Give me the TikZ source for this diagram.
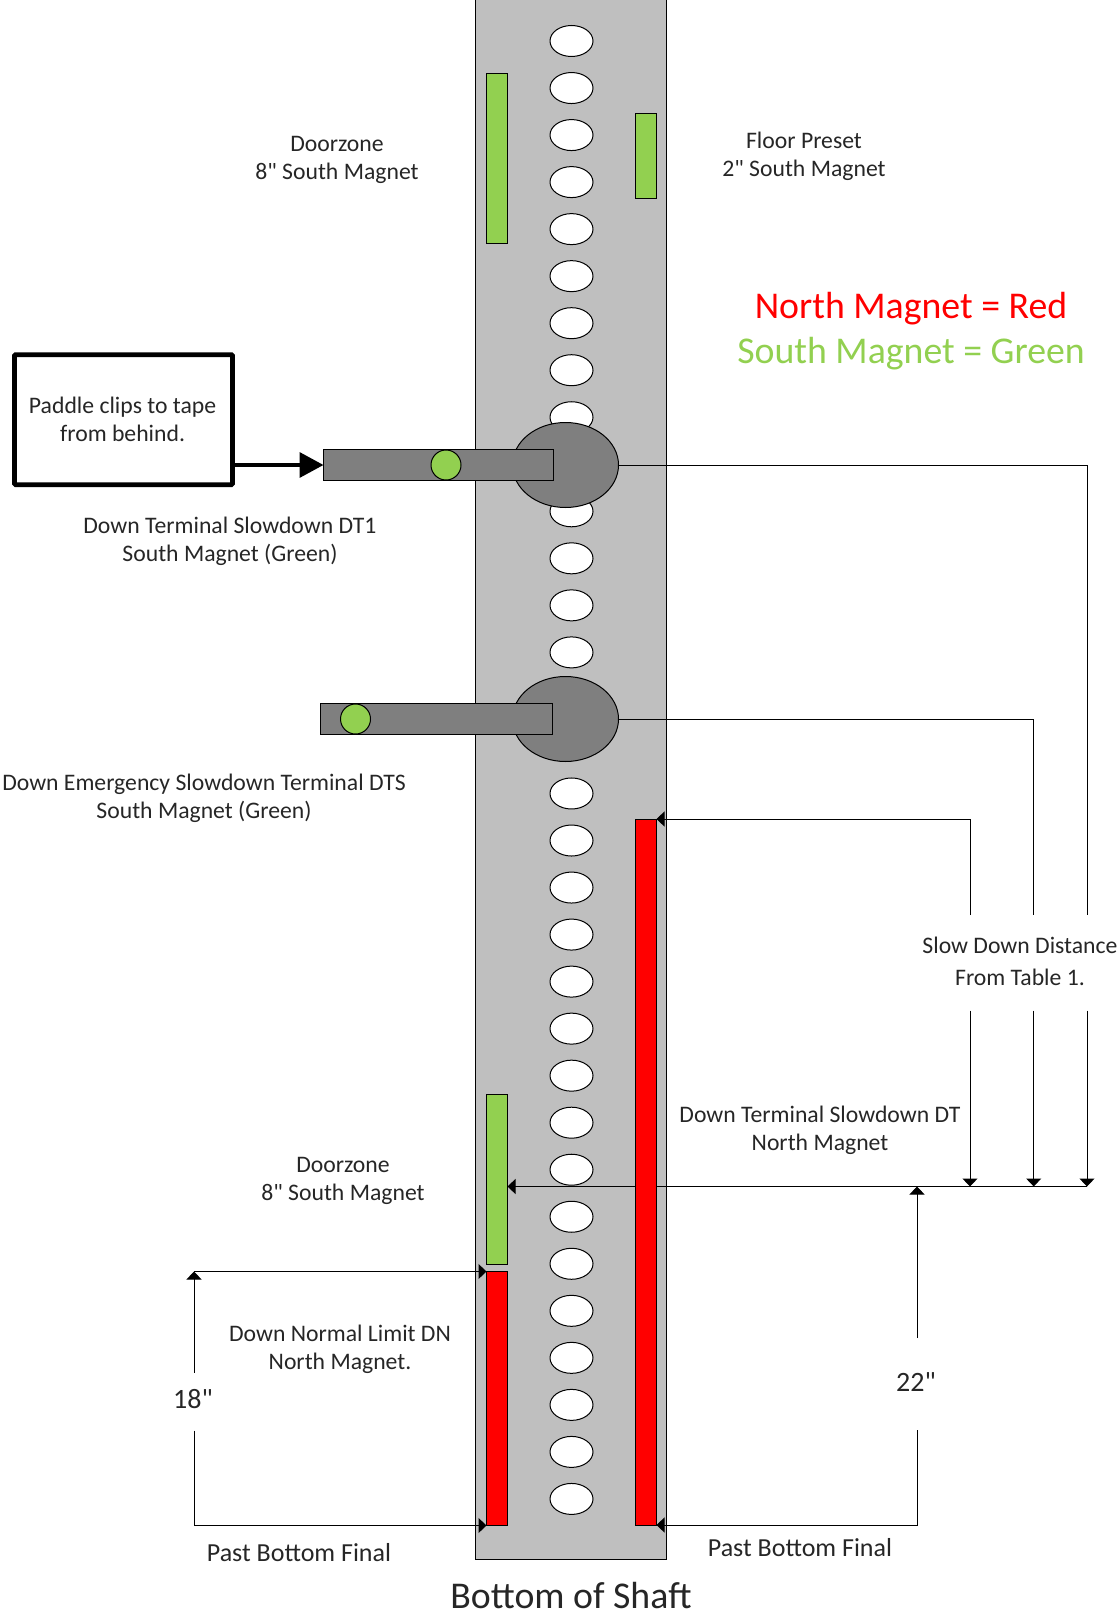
\documentclass[tikz,border=0pt]{standalone}
\usepackage{fontspec}
\setmainfont{Carlito}
\newfontfamily\plainquote{Carlito}
\usetikzlibrary{arrows.meta}
\usetikzlibrary{backgrounds}
\usetikzlibrary{shapes.geometric}
\definecolor{shaftgrey}{HTML}{BFBFBF}
\definecolor{paddlegrey}{HTML}{7F7F7F}
\definecolor{southgreen}{HTML}{92D050}
\definecolor{northred}{HTML}{FF0000}
\definecolor{labelgrey}{HTML}{262626}
\newcommand{\inchmark}{{\plainquote"}}
\begin{document}
\begin{tikzpicture}[x=1pt,y=-1pt,
                every node/.style={text=labelgrey,font=\fontsize{23.7}{28}\selectfont,align=center},
                outlined/.style={draw=black,line width=1pt,inner sep=0pt,outer sep=0pt},
                hole/.style={outlined,ellipse,fill=white,minimum width=43pt,minimum height=31pt},
                magnet/.style={outlined,rectangle,minimum width=21pt},
                southmagnet/.style={magnet,fill=southgreen},
                northmagnet/.style={magnet,fill=northred},
                head/.style={outlined,ellipse,fill=paddlegrey,minimum width=106pt,minimum height=85pt},
                paddlebar/.style={outlined,rectangle,fill=paddlegrey,minimum height=31pt},
                sensor/.style={outlined,circle,fill=southgreen,minimum size=30pt},
                dimline/.style={draw=black,line width=1pt},
                dimarrow/.style={dimline,-{Triangle[width=15pt,length=8pt]}},
                bigtext/.style={font=\fontsize{37.8}{45}\selectfont},
                sizetext/.style={font=\fontsize{28}{34}\selectfont},
                finaltext/.style={font=\fontsize{26}{30}\selectfont}]
            \useasboundingbox (0,0) rectangle (1118,1616);

            \foreach \i in {0,...,8,10,11,12,13,16,17,...,31}
                \node[hole] (h\i) at (571.5,{41+47.03*\i}) {};

            \node[southmagnet,minimum height=170pt] (doorzonetop) at (497,158.5) {};
            \node[southmagnet,minimum height=85pt] (preset) at (646,156) {};
            \node[southmagnet,minimum height=170pt] (doorzonelow) at (497,1179.5) {};
            \node[northmagnet,minimum height=254pt] (normallimit) at (497,1398.5) {};
            \node[northmagnet,minimum height=706pt] (slowdownred) at (646,1172) {};

            \node[head] (head1) at (565.5,465) {};
            \node[head] (head2) at (565.5,719) {};
            \node[paddlebar,minimum width=229.5pt] (paddle1) at (438.25,465) {};
            \node[paddlebar,minimum width=231.5pt] (paddle2) at (436.25,719) {};
            \node[sensor] (sensor1) at (446,465) {};
            \node[sensor] (sensor2) at (355.5,719) {};

            \node[draw=black,line width=4.6pt,rounded corners=1pt,minimum width=218pt,minimum height=130pt,
                  inner sep=0pt,outer sep=0pt] (clipbox) at (123.5,419.7) {};
            \node (cliptext) at (122.6,419) {Paddle clips to tape\\from behind.};
            \draw[black,line width=3.5pt,-{Triangle[width=25pt,length=24pt]}] (clipbox.east |- paddle1.west) -- (paddle1.west);

            \node (doorzonetoptext) at (337,160) {Doorzone\\8\inchmark{} South Magnet};
            \node (presettext) at (804,156) {Floor Preset\\2\inchmark{} South Magnet};
            \node[bigtext,text=northred] (northkey) at (911,309) {North Magnet = Red};
            \node[bigtext,text=southgreen] (southkey) at (911,354) {South Magnet = Green};
            \node (dt1text) at (230,541) {Down Terminal Slowdown DT1\\South Magnet (Green)};
            \node (dtstext) at (204,798.5) {Down Emergency Slowdown Terminal DTS\\South Magnet (Green)};
            \node[font=\fontsize{23.7}{32}\selectfont] (distancetext) at (1020,961.5) {Slow Down Distance\\From Table 1.};
            \node (dttext) at (820,1130) {Down Terminal Slowdown DT\\North Magnet};
            \node (doorzonelowtext) at (343,1181) {Doorzone\\8\inchmark{} South Magnet};
            \node (dntext) at (340,1349) {Down Normal Limit DN\\North Magnet.};
            \node[sizetext] (dist18) at (193,1399) {18\inchmark};
            \node[sizetext] (dist22) at (916,1382) {22\inchmark};
            \node[finaltext] (finalleft) at (299,1553) {Past Bottom Final};
            \node[finaltext] (finalright) at (800,1548) {Past Bottom Final};
            \node[bigtext] (bottomtext) at (571,1595) {Bottom of Shaft};

            \coordinate (datum) at (1087,1186.5);
            \coordinate (up1) at (970,915);
            \coordinate (up2) at (1033.7,915);
            \coordinate (up3) at (1087,915);
            \coordinate (low1) at (970,1010.7);
            \coordinate (low2) at (1033.7,1010.7);
            \coordinate (low3) at (1087,1010.7);
            \coordinate (gap18a) at (194,1372.7);
            \coordinate (gap18b) at (194,1430.7);
            \coordinate (gap22a) at (917,1338);
            \coordinate (gap22b) at (917,1430);

            \begin{scope}[on background layer]
                \node[outlined,rectangle,fill=shaftgrey,minimum width=191.5pt,minimum height=1559pt] (shaft) at (570.75,779.5) {};

                \draw[dimline] (head1.east) -| (up3);
                \draw[dimline] (head2.east) -| (up2);
                \draw[dimline] (up1) |- (slowdownred.north east);
                \draw[dimarrow] (up1 |- slowdownred.north east) -- (slowdownred.north east);
                \draw[dimarrow] (low1) -- (low1 |- datum);
                \draw[dimarrow] (low2) -- (low2 |- datum);
                \draw[dimarrow] (low3) -- (low3 |- datum);
                \draw[dimarrow] (datum) -- (datum -| doorzonelow.east);

                \draw[dimarrow] (gap22a) -- (gap22a |- datum);
                \draw[dimline] (gap22b) |- (slowdownred.south east);
                \draw[dimarrow] (gap22b |- slowdownred.south east) -- (slowdownred.south east);

                \draw[dimarrow] (gap18a) -- (gap18a |- normallimit.north west);
                \draw[dimarrow] (gap18a |- normallimit.north west) -- (normallimit.north west);
                \draw[dimline] (gap18b) |- (normallimit.south west);
                \draw[dimarrow] (gap18b |- normallimit.south west) -- (normallimit.south west);
            \end{scope}
        \end{tikzpicture}
\end{document}
